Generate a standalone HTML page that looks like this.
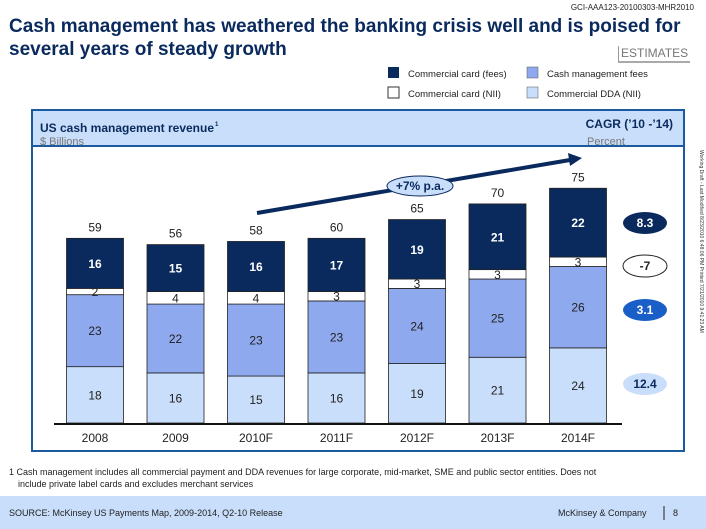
<!DOCTYPE html>
<html><head><meta charset="utf-8"><style>
body{margin:0;width:706px;height:529px;background:#fff;font-family:"Liberation Sans",sans-serif;position:relative;overflow:hidden}
.a{position:absolute}
</style></head><body>
<div class="a" style="right:12px;top:3px;font-size:8px;color:#222">GCI-AAA123-20100303-MHR2010</div>
<div class="a" style="left:9px;top:15px;font-size:19px;font-weight:bold;color:#0a2a5e;line-height:23px">Cash management has weathered the banking crisis well and is poised for<br>several years of steady growth</div>
<div class="a" style="left:618px;top:46px;font-size:12px;color:#777;border-left:1px solid #999;border-bottom:2px solid #aaa;padding:0 2px 1px 2px">ESTIMATES</div>
<svg class="a" style="left:0;top:0" width="706" height="529">
<g font-size="9.5" fill="#222">
<rect x="388" y="67" width="11" height="11" fill="#0a2a5e"/><text x="408" y="77">Commercial card (fees)</text>
<rect x="527" y="67" width="11" height="11" fill="#8ea9ee" stroke="#555" stroke-width=".5"/><text x="547" y="77">Cash management fees</text>
<rect x="388" y="87" width="11" height="11" fill="#fff" stroke="#333"/><text x="408" y="97">Commercial card (NII)</text>
<rect x="527" y="87" width="11" height="11" fill="#c8defa" stroke="#555" stroke-width=".5"/><text x="547" y="97">Commercial DDA (NII)</text>
</g>
<rect x="32" y="110" width="652" height="36" fill="#c8defa"/>
<rect x="32" y="110" width="652" height="341" fill="none" stroke="#1a5a9e" stroke-width="2"/>
<line x1="32" y1="146" x2="684" y2="146" stroke="#1a5a9e" stroke-width="2"/>
<text x="40" y="132" font-size="12" font-weight="bold" fill="#0a2a5e" textLength="174" lengthAdjust="spacingAndGlyphs">US cash management revenue</text>
<text x="215" y="126" font-size="6" font-weight="bold" fill="#0a2a5e">1</text>
<text x="40" y="145" font-size="11" fill="#777">$ Billions</text>
<text x="673" y="128" font-size="12" font-weight="bold" fill="#0a2a5e" text-anchor="end">CAGR (’10 -’14)</text>
<text x="587" y="145" font-size="11" fill="#777">Percent</text>
<g id="plot"></g>
<g>
<line x1="257" y1="213" x2="570" y2="160" stroke="#0a2a5e" stroke-width="4"/>
<polygon points="582,158 568,153 570,166" fill="#0a2a5e"/>
<ellipse cx="420" cy="186" rx="33" ry="10" fill="#c8defa" stroke="#0a2a5e"/>
<text x="420" y="190" font-size="12" font-weight="bold" text-anchor="middle" fill="#0a2a5e">+7% p.a.</text>
</g>
<g font-size="12" font-weight="bold" text-anchor="middle">
<ellipse cx="645" cy="223" rx="22" ry="11" fill="#0a2a5e"/><text x="645" y="227" fill="#fff">8.3</text>
<ellipse cx="645" cy="266" rx="22" ry="11" fill="#fff" stroke="#222"/><text x="645" y="270" fill="#222">-7</text>
<ellipse cx="645" cy="310" rx="22" ry="11" fill="#1a5fc8"/><text x="645" y="314" fill="#fff">3.1</text>
<ellipse cx="645" cy="384" rx="22" ry="11" fill="#c8defa"/><text x="645" y="388" fill="#0a2a5e">12.4</text>
</g>
<text transform="translate(700,150) rotate(90)" font-size="5" fill="#333">Working Draft - Last Modified 8/23/2010 6:48:06 PM        Printed 7/21/2010 9:41:23 AM</text>
<text x="9" y="475" font-size="9" fill="#222">1 Cash management includes all commercial payment and DDA revenues for large corporate, mid-market, SME and public sector entities. Does not</text>
<text x="18" y="487" font-size="9" fill="#222">include private label cards and excludes merchant services</text>
<rect x="0" y="496" width="706" height="33" fill="#c8defa"/>
<text x="9" y="516" font-size="9" fill="#222">SOURCE: McKinsey US Payments Map, 2009-2014, Q2-10 Release</text>
<text x="558" y="516" font-size="9" fill="#222">McKinsey &amp; Company</text>
<line x1="664" y1="506" x2="664" y2="520" stroke="#222"/>
<text x="673" y="516" font-size="9" fill="#222">8</text>
</svg>
<script>
const categories=["2008","2009","2010F","2011F","2012F","2013F","2014F"];
const dda=[18,16,15,16,19,21,24];
const cmFees=[23,22,23,23,24,25,26];
const cardNII=[2,4,4,3,3,3,3];
const cardFees=[16,15,16,17,19,21,22];
const totals=[59,56,58,60,65,70,75];
const NS="http://www.w3.org/2000/svg";
const g=document.getElementById('plot');
const base=423, k=3.13, x0=95, step=80.5, bw=57;
const y=v=>base-v*k, xc=i=>x0+i*step;
function el(t,a){const e=document.createElementNS(NS,t);for(const n in a)e.setAttribute(n,a[n]);g.appendChild(e);return e;}
const series=[[dda,"#c8defa","#222"],[cmFees,"#8ea9ee","#222"],[cardNII,"#fff","#222"],[cardFees,"#0a2a5e","#fff"]];
categories.forEach((c,i)=>{
 let cum=0;
 series.forEach(([arr,fill,tc],s)=>{
  const v=arr[i];
  const r=el('rect',{x:xc(i)-bw/2,y:y(cum+v),width:bw,height:v*k,fill:fill,stroke:'#222','stroke-width':0.8});
  
  
  const t=el('text',{x:xc(i),y:y(cum+v/2)+4.5,'font-size':12,'font-weight':s==3?'bold':'normal','text-anchor':'middle',fill:tc});
  t.textContent=v;
  
  
  cum+=v;
 });
 const tt=el('text',{x:xc(i),y:y(cum)-7,'font-size':12,'text-anchor':'middle',fill:'#222'});
 tt.textContent=totals[i];
 
 
 const xl=el('text',{x:xc(i),y:base+19,'font-size':12,'text-anchor':'middle',fill:'#222'});
 xl.textContent=c;
 
 
});
const ax=el('line',{x1:54,x2:622,y1:base+1,y2:base+1,stroke:'#111','stroke-width':2});


</script>
</body></html>
